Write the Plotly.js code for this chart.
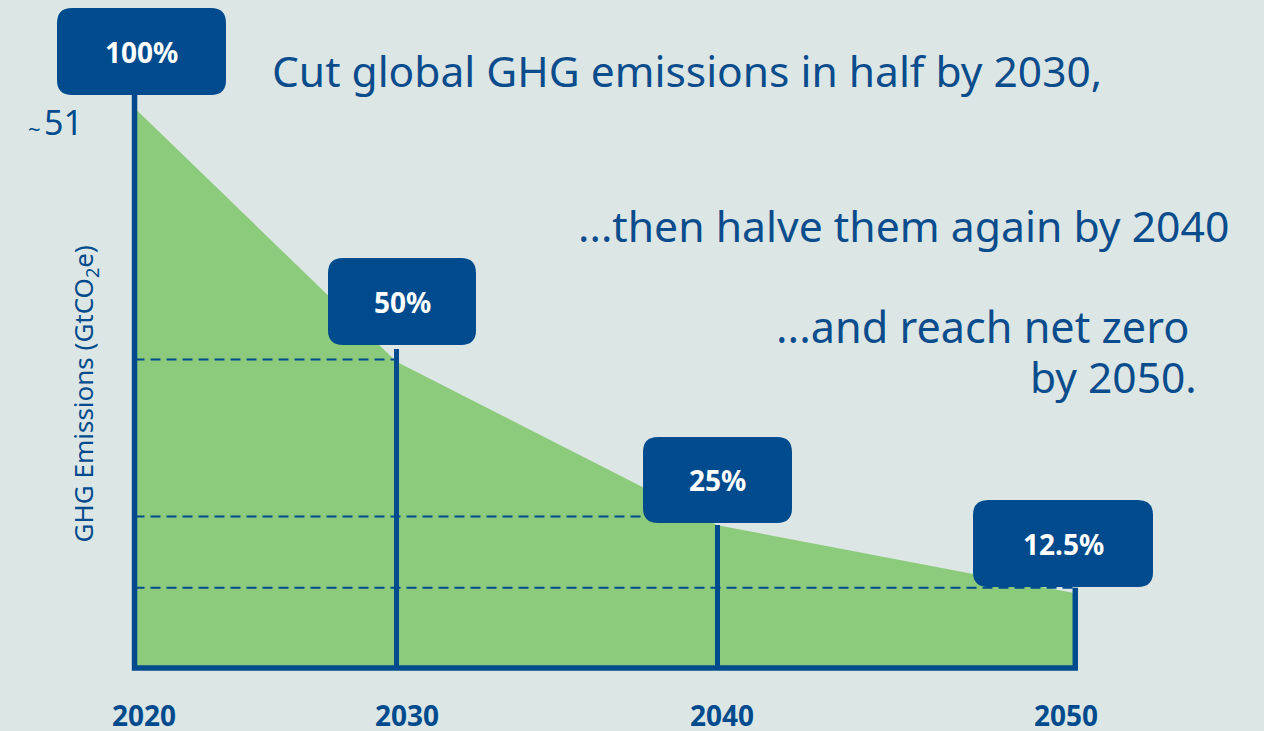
<!DOCTYPE html>
<html>
<head>
<meta charset="utf-8">
<script src="https://cdn.plot.ly/plotly-3.0.1.min.js"></script>
<style>
html,body{margin:0;padding:0;background:#dce7e5;overflow:hidden}
#chart{width:1264px;height:731px}
</style>
</head>
<body>
<div id="chart"></div>
<script>
// ---------------- data ----------------
const years = ['2020', '2030', '2040', '2050'];
// where each year sits along the drawn time axis (% of axis length; the infographic axis is not linear)
const axisPos = [0, 27.85, 61.97, 100];
// emissions curve, GtCO2e
const emissions = [51, 27.9, 13.0, 6.8];
// share of 2020 emissions shown in the boxes
const shareLabels = ['100%', '50%', '25%', '12.5%'];
// dashed guide levels for 2030, 2040, 2050 (GtCO2e)
const guideLevels = [28.1, 13.8, 7.3];
// position of the year labels along the axis (%)
const yearLabelPos = [1.0, 29.0, 62.45, 99.0];
const startValueLabel = '51';
const headlines = [
  'Cut global GHG emissions in half by 2030,',
  '...then halve them again by 2040',
  '...and reach net zero',
  'by 2050.'
];
const yTitle = 'GHG Emissions (GtCO<sub>2</sub>e)';

// ---------------- layout / style ----------------
const W = 1264, H = 731;
const xRange = [-14.30, 120.06];
const yRange = [-5.74, 60.84];
const BLUE = '#004b8d';
const TEXTBLUE = '#0b4c8c';
const GREEN = '#8dcb7c';
const BG = '#dce7e5';
const FONT = 'Noto Sans, Open Sans, sans-serif';

// pixel -> data helpers (plot area == full figure)
const xd = px => xRange[0] + px / W * (xRange[1] - xRange[0]);
const yd = py => yRange[1] - py / H * (yRange[1] - yRange[0]);

// label boxes (pixel rectangles)
const boxes = [
  {x0: 57,  x1: 226,  y0: 8,   y1: 95},
  {x0: 328, x1: 476,  y0: 258, y1: 345},
  {x0: 643, x1: 792,  y0: 437, y1: 523},
  {x0: 973, x1: 1153, y0: 500, y1: 587}
];
const R = 15; // corner radius px

function roundRect(b) {
  const rx = R / W * (xRange[1] - xRange[0]);
  const ry = R / H * (yRange[1] - yRange[0]);
  const L = xd(b.x0), Rt = xd(b.x1), T = yd(b.y0), B = yd(b.y1);
  return `M${L + rx},${T} L${Rt - rx},${T} Q${Rt},${T} ${Rt},${T - ry} ` +
         `L${Rt},${B + ry} Q${Rt},${B} ${Rt - rx},${B} ` +
         `L${L + rx},${B} Q${L},${B} ${L},${B + ry} ` +
         `L${L},${T - ry} Q${L},${T} ${L + rx},${T} Z`;
}

// ---------------- traces ----------------
const area = {
  type: 'scatter', mode: 'lines',
  x: axisPos, y: emissions,
  fill: 'tozeroy', fillcolor: GREEN,
  line: {width: 0, color: GREEN},
  hoverinfo: 'skip', showlegend: false
};

// dashed guides from the axis to each year's vertical
const gx = [], gy = [];
guideLevels.forEach((lv, i) => {
  gx.push(axisPos[0], axisPos[i + 1], null);
  gy.push(lv, lv, null);
});
const guides = {
  type: 'scatter', mode: 'lines', x: gx, y: gy,
  line: {color: BLUE, width: 2, dash: '10px,6px'},
  hoverinfo: 'skip', showlegend: false
};

// inner verticals (2030, 2040) rising to just under their boxes
const vx = [], vy = [];
[1, 2].forEach(i => {
  vx.push(axisPos[i], axisPos[i], null);
  vy.push(0, yd(boxes[i].y1 + (i === 1 ? 4 : 2)), null);
});
const verticals = {
  type: 'scatter', mode: 'lines', x: vx, y: vy,
  line: {color: BLUE, width: 5},
  hoverinfo: 'skip', showlegend: false
};

// frame: left axis, baseline, 2050 vertical
const frame = {
  type: 'scatter', mode: 'lines',
  x: [axisPos[0], axisPos[0], axisPos[3], axisPos[3]],
  y: [yd(boxes[0].y1), 0, 0, guideLevels[2]],
  line: {color: BLUE, width: 5.5},
  hoverinfo: 'skip', showlegend: false
};

// ---------------- shapes & annotations ----------------
const shapes = boxes.map(b => ({
  type: 'path', xref: 'x', yref: 'y', layer: 'above',
  path: roundRect(b), fillcolor: BLUE, line: {width: 0}
}));

const ann = [];
const base = {showarrow: false, borderpad: 0, borderwidth: 0, xref: 'x', yref: 'y'};

boxes.forEach((b, i) => ann.push(Object.assign({}, base, {
  x: xd((b.x0 + b.x1) / 2), y: yd((b.y0 + b.y1) / 2),
  xanchor: 'center', yanchor: 'middle',
  text: '<b>' + shareLabels[i] + '</b>',
  font: {family: FONT, size: 28, color: '#ffffff'}
})));

years.forEach((yr, i) => ann.push(Object.assign({}, base, {
  x: yearLabelPos[i], y: yd(715),
  xanchor: 'center', yanchor: 'middle',
  text: '<b>' + yr + '</b>',
  font: {family: FONT, size: 28, color: BLUE}
})));

const headPos = [[272, 70.7], [578, 225.4], [776, 326.7], [1030, 376.7]];
const headSize = [42.5, 42.7, 43.2, 42.5];
headlines.forEach((t, i) => ann.push(Object.assign({}, base, {
  x: xd(headPos[i][0]), y: yd(headPos[i][1]),
  xanchor: 'left', yanchor: 'middle', text: t,
  font: {family: FONT, size: headSize[i], color: TEXTBLUE}
})));

ann.push(Object.assign({}, base, {
  x: xd(84.4), y: yd(394), xanchor: 'center', yanchor: 'middle',
  textangle: -90, text: yTitle,
  font: {family: FONT, size: 26, color: BLUE}
}));

ann.push(Object.assign({}, base, {
  x: xd(44), y: yd(122), xanchor: 'left', yanchor: 'middle',
  text: startValueLabel, font: {family: FONT, size: 34, color: BLUE}
}));
ann.push(Object.assign({}, base, {
  x: xd(34), y: yd(128), xanchor: 'center', yanchor: 'middle',
  text: '~', font: {family: FONT, size: 22, color: BLUE}
}));

const layout = {
  width: W, height: H, autosize: false,
  margin: {l: 0, r: 0, t: 0, b: 0, pad: 0},
  paper_bgcolor: BG, plot_bgcolor: BG,
  showlegend: false,
  xaxis: {range: xRange, visible: false, fixedrange: true},
  yaxis: {range: yRange, visible: false, fixedrange: true},
  shapes: shapes,
  annotations: ann
};

Plotly.newPlot('chart', [area, guides, verticals, frame], layout,
  {displayModeBar: false, staticPlot: true});
</script>
</body>
</html>
